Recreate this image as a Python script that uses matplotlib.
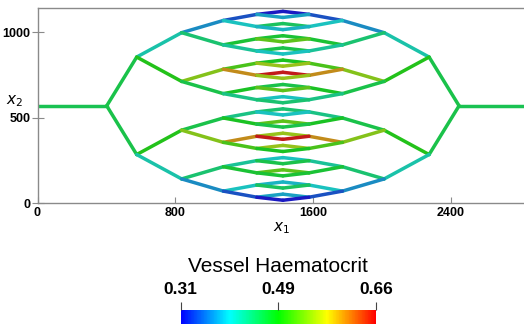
import matplotlib
matplotlib.use("Agg")
import matplotlib.pyplot as plt
import numpy as np
from matplotlib.collections import LineCollection
from matplotlib.colors import LinearSegmentedColormap, Normalize
from matplotlib.cm import ScalarMappable

plt.rcParams['font.family'] = ['Liberation Sans', 'DejaVu Sans']

# network geometry (node x positions for each generation, left half)
gen_x = [402, 576, 837, 1079, 1273, 1425]
gen_dy = [285, 142.5, 71.25, 35.6, 17.8]
y_mid = 570
x_total = 2850

# haematocrit per vessel, upper half, top to bottom (lower half is mirrored)
hct_inlet = 0.455
hct_gen1 = [0.46]
hct_gen2 = [0.41, 0.49]
hct_gen3 = [0.37, 0.44, 0.54, 0.46]
hct_gen4 = [0.34, 0.40, 0.47, 0.42, 0.51, 0.60, 0.48, 0.43]
hct_gen5 = [0.31, 0.38, 0.45, 0.39, 0.47, 0.52, 0.46, 0.40,
            0.48, 0.55, 0.66, 0.55, 0.46, 0.52, 0.40, 0.44]

hct_min, hct_max = 0.31, 0.66
cbar_ticks = [0.31, 0.485, 0.66]
cbar_labels = ["0.31", "0.49", "0.66"]

cmap = LinearSegmentedColormap.from_list(
    "bluered", ["#0000ff", "#00ffff", "#00ff00", "#ffff00", "#ff0000"])
norm = Normalize(hct_min, hct_max)

segs = []
vals = []

# inlet / outlet
segs.append([(0, y_mid), (gen_x[0], y_mid)])
vals.append(hct_inlet)
segs.append([(x_total - gen_x[0], y_mid), (x_total, y_mid)])
vals.append(hct_inlet)

# y of every node in each generation
node_y = [[y_mid]]
for k in range(5):
    ys = []
    for y in node_y[-1]:
        ys.append(y + gen_dy[k])
        ys.append(y - gen_dy[k])
    node_y.append(ys)

alle = [hct_gen1, hct_gen2, hct_gen3, hct_gen4, hct_gen5]
for k in range(1, 6):
    upper = alle[k - 1]
    full = upper + upper[::-1]
    for i in range(len(node_y[k])):
        y_p = node_y[k - 1][i // 2]
        y_c = node_y[k][i]
        segs.append([(gen_x[k - 1], y_p), (gen_x[k], y_c)])
        vals.append(full[i])
        segs.append([(x_total - gen_x[k - 1], y_p), (x_total - gen_x[k], y_c)])
        vals.append(full[i])

kolory = cmap(norm(np.array(vals)))
ciemne = kolory.copy()
ciemne[:, :3] = kolory[:, :3] * 0.66 + 0.1

fig = plt.figure(figsize=(5.24, 3.27), dpi=100)
ax = fig.add_axes([37.5 / 524, 123.7 / 327, 490.8 / 524, 195 / 327])
ax.add_collection(LineCollection(segs, colors=ciemne, linewidths=2.5, capstyle='round'))
ax.set_xlim(0, x_total)
ax.set_ylim(0, 1140)

for s in ['left', 'bottom', 'top']:
    ax.spines[s].set_color('#8a8a8a')
    ax.spines[s].set_linewidth(1.0)
ax.spines['right'].set_visible(False)

ax.set_xticks([0, 800, 1600, 2400])
ax.set_yticks([0, 500, 1000])
ax.tick_params(axis='x', direction='in', length=4.5, color='#8a8a8a', labelsize=9, pad=2.5)
ax.tick_params(axis='y', direction='inout', length=8, color='#8a8a8a', labelsize=9, pad=1)
for t in ax.get_xticklabels() + ax.get_yticklabels():
    t.set_fontweight('bold')
ax.set_xlabel("$x_1$", fontsize=11, labelpad=-3)
ax.set_ylabel("$x_2$", fontsize=11, rotation=0, labelpad=-2)
ax.xaxis.set_label_coords(0.497, -0.085)
ax.yaxis.set_label_coords(-0.047, 0.485)

# pasek kolorow
cax = fig.add_axes([180.7 / 524, 3 / 327, 195.3 / 524, 14 / 327])
cb = fig.colorbar(ScalarMappable(norm=norm, cmap=cmap), cax=cax, orientation='horizontal')
cb.outline.set_visible(False)
cb.set_ticks(cbar_ticks)
cb.set_ticklabels(cbar_labels)
cax.xaxis.set_ticks_position('top')
cax.tick_params(direction='out', length=6, color='#444444', labelsize=12.5, pad=3)
for t in cax.get_xticklabels():
    t.set_fontweight('bold')
fig.text(278 / 524, (327 - 266.7) / 327, "Vessel Haematocrit", ha='center', va='center',
         fontsize=15)

fig.savefig("out.png", dpi=100)
